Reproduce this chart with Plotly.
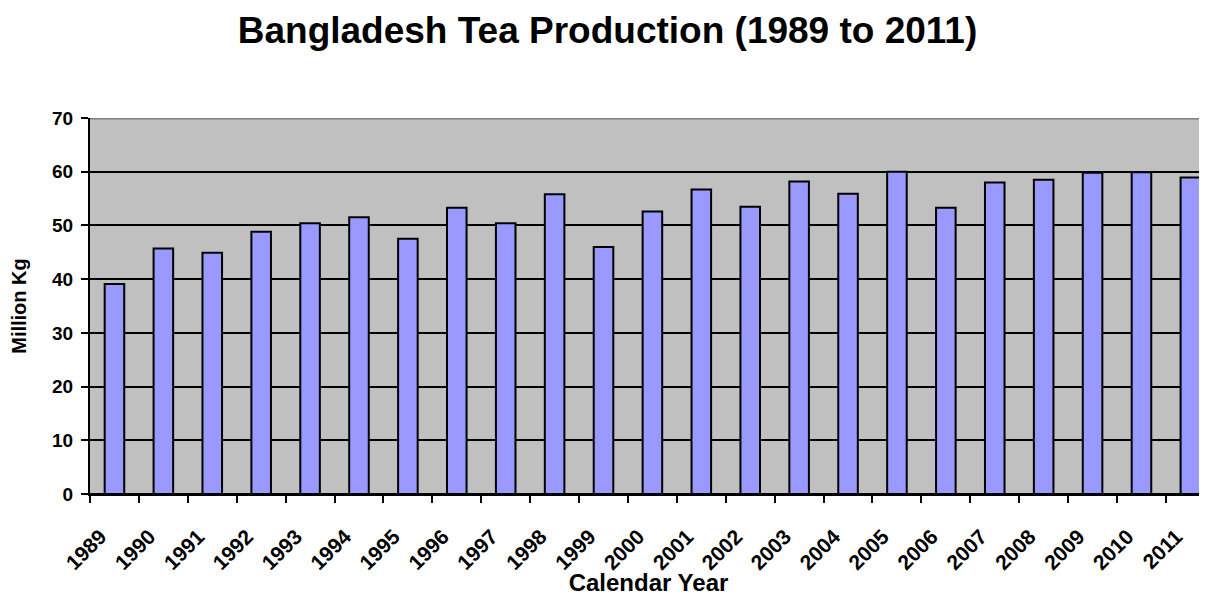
import plotly.graph_objects as go

# data
years = [str(y) for y in range(1989, 2012)]
production = [39.1, 45.7, 44.9, 48.8, 50.4, 51.5, 47.5, 53.3, 50.4, 55.8,
              46.0, 52.6, 56.7, 53.5, 58.2, 55.9, 60.0, 53.3, 58.0, 58.5,
              59.8, 59.9, 58.9]
y_ticks = [0, 10, 20, 30, 40, 50, 60, 70]

font_family = "Liberation Sans, Arial, sans-serif"

fig = go.Figure()

fig.add_trace(go.Bar(x=years, y=production, width=0.4,
                     marker=dict(color="#9999FF", line=dict(color="black", width=2))))

# page body has an 8px margin, so the figure is 8px smaller than the window
fig.update_layout(
  width=1199,
  height=588,
  margin=dict(l=82, r=0, t=110, b=102),
  paper_bgcolor="white",
  plot_bgcolor="#C0C0C0",
  showlegend=False,
  title=dict(text="Bangladesh Tea Production (1989 to 2011)", x=0.5, xanchor="center",
             yref="container", y=0.962, yanchor="middle",
             font=dict(family=font_family, size=37, color="black", weight="bold")),
  # gray top border of the plot area
  shapes=[dict(type="line", xref="paper", x0=0, x1=1, yref="y", y0=70, y1=70,
               line=dict(color="#808080", width=3), layer="above")],
)

fig.update_xaxes(
  type="category",
  range=[-0.5, 22.34],
  automargin=False,
  tickangle=-45,
  tickson="boundaries",
  ticks="outside", ticklen=7, tickwidth=2, tickcolor="black",
  ticklabelshift=-14, ticklabelstandoff=20,
  showgrid=False,
  showline=True, linecolor="black", linewidth=2,
  tickfont=dict(family=font_family, size=21, color="black", weight="bold"),
  title=dict(text="Calendar Year", standoff=16,
             font=dict(family=font_family, size=24, color="black", weight="bold")),
)

fig.update_yaxes(
  range=[0, 70],
  automargin=False,
  tickvals=y_ticks,
  ticks="outside", ticklen=7, tickwidth=2, tickcolor="black",
  ticklabelstandoff=4,
  showgrid=True, gridcolor="black", gridwidth=2,
  zeroline=True, zerolinecolor="black", zerolinewidth=2,
  showline=True, linecolor="black", linewidth=2,
  tickfont=dict(family=font_family, size=19, color="black", weight="bold"),
  title=dict(text="Million Kg", standoff=20,
             font=dict(family=font_family, size=20, color="black", weight="bold")),
)

fig.write_html("out.html", config={"displayModeBar": False})
